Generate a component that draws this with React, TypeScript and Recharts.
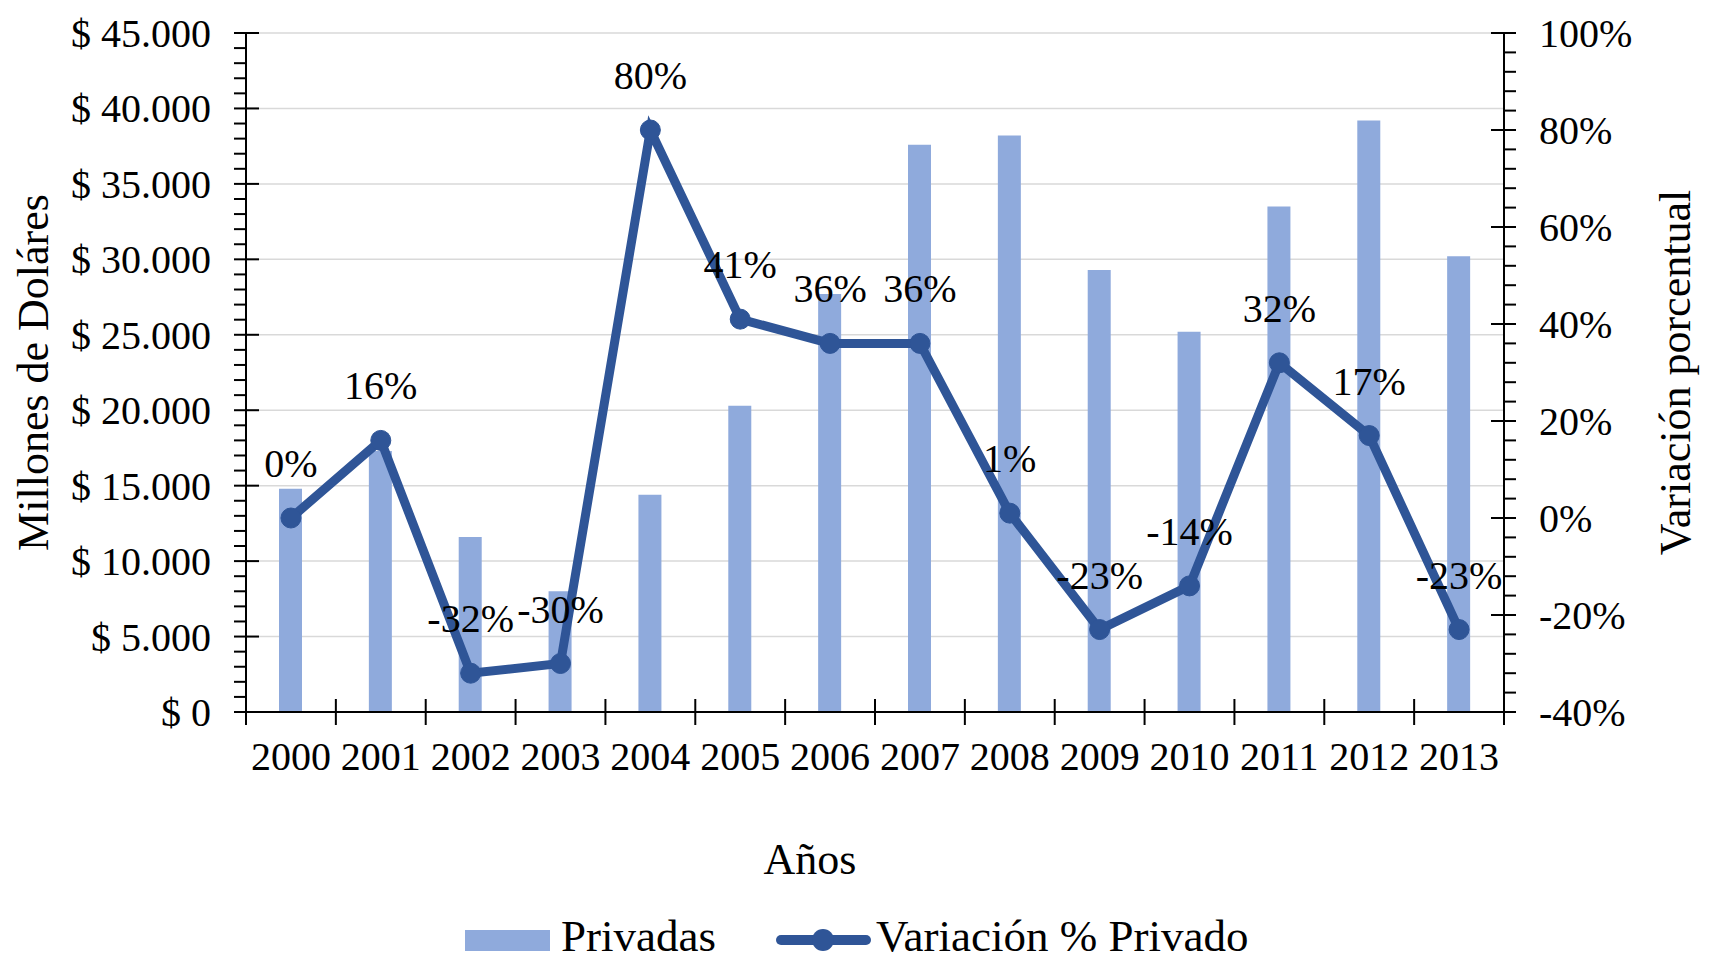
import React from "react";
import { ComposedChart, Bar, Line, XAxis, YAxis, CartesianGrid, Legend, LabelList } from "recharts";

const FONT = "'Liberation Serif', 'Times New Roman', serif";
const BAR_COLOR = "#8FAADC";
const LINE_COLOR = "#2F5597";

const years = ["2000", "2001", "2002", "2003", "2004", "2005", "2006", "2007", "2008", "2009", "2010", "2011", "2012", "2013"];
// millones de dólares
const privadas = [14800, 17300, 11600, 8000, 14400, 20300, 27700, 37600, 38200, 29300, 25200, 33500, 39200, 30200];
// variación porcentual
const variacion = [0, 16, -32, -30, 80, 41, 36, 36, 1, -23, -14, 32, 17, -23];

const leftMajorTicks = [0, 5000, 10000, 15000, 20000, 25000, 30000, 35000, 40000, 45000];
const rightMajorTicks = [-40, -20, 0, 20, 40, 60, 80, 100];

// minor ticks: 1000 on the left axis, 4% on the right one
const leftTicks = Array.from({ length: 46 }, (_, i) => i * 1000);
const rightTicks = Array.from({ length: 36 }, (_, i) => -40 + i * 4);

const data = years.map((year, i) => ({ year, privadas: privadas[i], variacion: variacion[i] }));

const formatDollars = (v: number) => "$ " + String(v).replace(/\B(?=(\d{3})+(?!\d))/g, ".");

const LeftTick = (props: any) => {
  const { x, y, payload } = props;
  const major = leftMajorTicks.includes(payload.value);
  return (
    <g>
      <line x1={x - 12} x2={major ? x + 13 : x} y1={y} y2={y} stroke="#000" strokeWidth={2} />
      {major && (
        <text x={x - 35} y={y} dy={14} textAnchor="end" fontFamily={FONT} fontSize={40} fill="#000">
          {formatDollars(payload.value)}
        </text>
      )}
    </g>
  );
};

const RightTick = (props: any) => {
  const { x, y, payload } = props;
  const major = rightMajorTicks.includes(payload.value);
  return (
    <g>
      <line x1={major ? x - 13 : x} x2={x + 12} y1={y} y2={y} stroke="#000" strokeWidth={2} />
      {major && (
        <text x={x + 35} y={y} dy={14} textAnchor="start" fontFamily={FONT} fontSize={40} fill="#000">
          {`${payload.value}%`}
        </text>
      )}
    </g>
  );
};

const XTick = (props: any) => {
  const { x, y, payload, index, visibleTicksCount } = props;
  const half = payload.offset || 45;
  return (
    <g>
      <line x1={x - half} x2={x - half} y1={y - 13} y2={y + 13} stroke="#000" strokeWidth={2} />
      {index === visibleTicksCount - 1 && (
        <line x1={x + half} x2={x + half} y1={y - 13} y2={y + 13} stroke="#000" strokeWidth={2} />
      )}
      <text x={x} y={y + 58} textAnchor="middle" fontFamily={FONT} fontSize={40} fill="#000">
        {payload.value}
      </text>
    </g>
  );
};

const LeftTitle = (props: any) => {
  const vb = props.viewBox || { x: 0, y: 33, width: 246, height: 679 };
  return (
    <text transform={`translate(${vb.x + 48}, ${vb.y + vb.height / 2}) rotate(-90)`} textAnchor="middle" fontFamily={FONT} fontSize={44} fill="#000">
      Millones de Doláres
    </text>
  );
};

const RightTitle = (props: any) => {
  const vb = props.viewBox || { x: 1504, y: 33, width: 212, height: 679 };
  return (
    <text transform={`translate(${vb.x + 186}, ${vb.y + vb.height / 2}) rotate(-90)`} textAnchor="middle" fontFamily={FONT} fontSize={44} fill="#000">
      Variación porcentual
    </text>
  );
};

const XTitle = (props: any) => {
  const vb = props.viewBox || { x: 246, y: 712, width: 1258, height: 188 };
  return (
    <text x={vb.x + 564} y={vb.y + 162} textAnchor="middle" fontFamily={FONT} fontSize={44} fill="#000">
      Años
    </text>
  );
};

const renderPctLabel = (props: any) => {
  const x = props.x ?? props.viewBox?.x;
  const y = props.y ?? props.viewBox?.y;
  if (x == null || y == null) return null;
  return (
    <text x={x} y={y - 41} textAnchor="middle" fontFamily={FONT} fontSize={40} fill="#000">
      {`${props.value}%`}
    </text>
  );
};

const renderLegend = (props: any) => {
  const items = props.payload || [];
  const barItem = items.find((it: any) => it.dataKey === "privadas");
  const lineItem = items.find((it: any) => it.dataKey === "variacion");
  return (
    <svg width={1716} height={60} style={{ display: "block", overflow: "visible" }}>
      <rect x={465} y={30} width={85} height={21} fill={barItem?.color || BAR_COLOR} />
      <text x={561} y={51} fontFamily={FONT} fontSize={45} fill="#000">
        {barItem?.value || "Privadas"}
      </text>
      <line x1={781} x2={866} y1={40} y2={40} stroke={lineItem?.color || LINE_COLOR} strokeWidth={10} strokeLinecap="round" />
      <circle cx={823} cy={40} r={11} fill={lineItem?.color || LINE_COLOR} />
      <text x={876} y={51} fontFamily={FONT} fontSize={45} fill="#000">
        {lineItem?.value || "Variación % Privado"}
      </text>
    </svg>
  );
};

export default function App() {
  return (
    <div style={{ width: 1716, height: 960, background: "#fff" }}>
      <style>{"body{margin:0}"}</style>
      <ComposedChart width={1716} height={960} data={data} margin={{ top: 33, right: 0, bottom: 0, left: 0 }}>
        <CartesianGrid yAxisId="left" vertical={false} stroke="#d9d9d9" strokeWidth={1.5} horizontalValues={leftMajorTicks} />
        <XAxis
          dataKey="year"
          height={188}
          interval={0}
          tickSize={0}
          tickMargin={0}
          tickLine={false}
          tick={<XTick />}
          axisLine={{ stroke: "#000", strokeWidth: 2 }}
          label={<XTitle />}
        />
        <YAxis
          yAxisId="left"
          width={246}
          domain={[0, 45000]}
          ticks={leftTicks}
          interval={0}
          tickSize={0}
          tickMargin={0}
          tickLine={false}
          tick={<LeftTick />}
          axisLine={{ stroke: "#000", strokeWidth: 2 }}
          label={<LeftTitle />}
        />
        <YAxis
          yAxisId="right"
          orientation="right"
          width={212}
          domain={[-40, 100]}
          ticks={rightTicks}
          interval={0}
          tickSize={0}
          tickMargin={0}
          tickLine={false}
          tick={<RightTick />}
          axisLine={{ stroke: "#000", strokeWidth: 2 }}
          label={<RightTitle />}
        />
        <Legend verticalAlign="bottom" content={renderLegend} />
        <Bar yAxisId="left" dataKey="privadas" name="Privadas" fill={BAR_COLOR} barSize={23} isAnimationActive={false} />
        <Line
          yAxisId="right"
          type="linear"
          dataKey="variacion"
          name="Variación % Privado"
          stroke={LINE_COLOR}
          strokeWidth={9}
          dot={{ r: 10, fill: LINE_COLOR, stroke: LINE_COLOR, strokeWidth: 1 }}
          activeDot={false}
          isAnimationActive={false}
        >
          <LabelList dataKey="variacion" content={renderPctLabel} />
        </Line>
      </ComposedChart>
    </div>
  );
}
